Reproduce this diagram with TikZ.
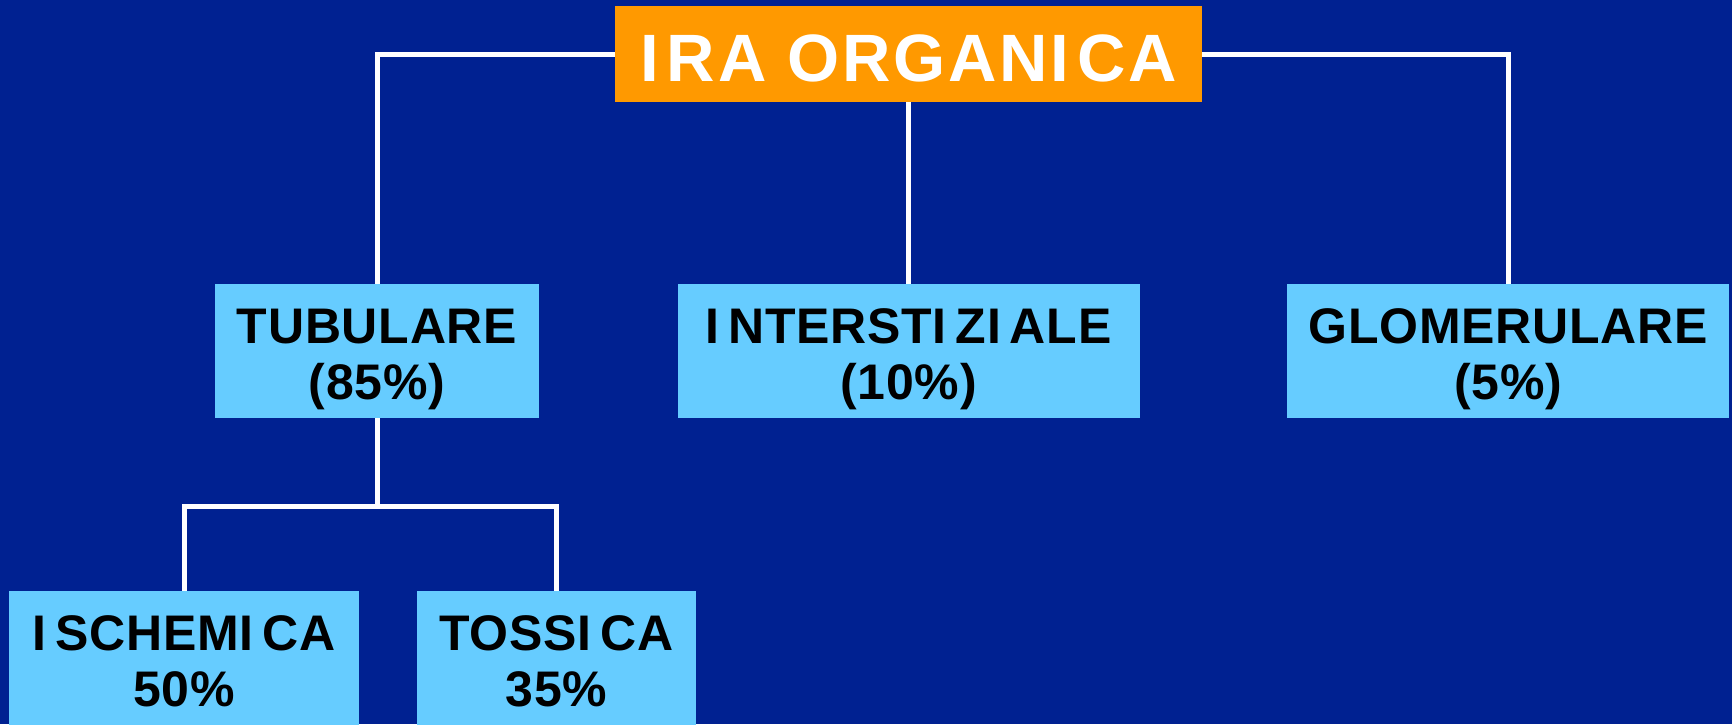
\documentclass[tikz,border=0pt]{standalone}
\usepackage{fontspec}
\setmainfont{Liberation Sans}
\newfontfamily\boxfont{Liberation Sans}[LetterSpace=1.5]
\newfontfamily\headfont{Liberation Sans}[LetterSpace=4]
\definecolor{bgblue}{RGB}{0,33,145}
\definecolor{headorange}{RGB}{255,153,0}
\definecolor{catblue}{RGB}{102,204,255}
% a capital I followed by the wider gap used throughout the chart
\newcommand\Isp{I\kern0.18em}

\begin{document}
\begin{tikzpicture}[x=1pt,y=-1pt,
  head/.style={fill=headorange, text=white, inner sep=0pt,
    minimum width=587pt, minimum height=96pt,
    text height=54pt, text depth=0pt,
    font=\headfont\bfseries\fontsize{67}{67}\selectfont},
  cat/.style={fill=catblue, text=black, inner sep=0pt,
    minimum height=134pt, align=center,
    text height=96pt, text depth=0pt,
    font=\boxfont\bfseries\fontsize{50}{56}\selectfont},
  link/.style={draw=white, line width=5pt}]

\fill[bgblue] (0,0) rectangle (1732,724);
\useasboundingbox (0,0) rectangle (1732,724);

% boxes
\node[head] (ira) at (908.5,54) {I\kern0.12em RA ORGANI\kern0.12em CA};
\node[cat, minimum width=324pt] (tub) at (377,351) {TUBULARE\\(85\%)};
\node[cat, minimum width=462pt] (int) at (908.5,351) {\Isp NTERSTI\kern0.18em ZI\kern0.18em ALE\\(10\%)};
\node[cat, minimum width=442pt] (glo) at (1508,351) {GLOMERULARE\\(5\%)};
\node[cat, minimum width=350pt] (isc) at (184,658) {\Isp SCHEMI\kern0.18em CA\\50\%};
\node[cat, minimum width=279pt] (tos) at (556.5,658) {TOSSI\kern0.18em CA\\35\%};

% connectors
\coordinate (fork) at (377,506);
\draw[link] (ira.west) -| (tub.north);
\draw[link] (ira.east) -| (glo.north);
\draw[link] (ira.south) -- (int.north);
\draw[link] (tub.south) -- (fork);
\draw[link] (fork) -| (isc.north);
\draw[link] (fork) -| (tos.north);
\end{tikzpicture}
\end{document}
